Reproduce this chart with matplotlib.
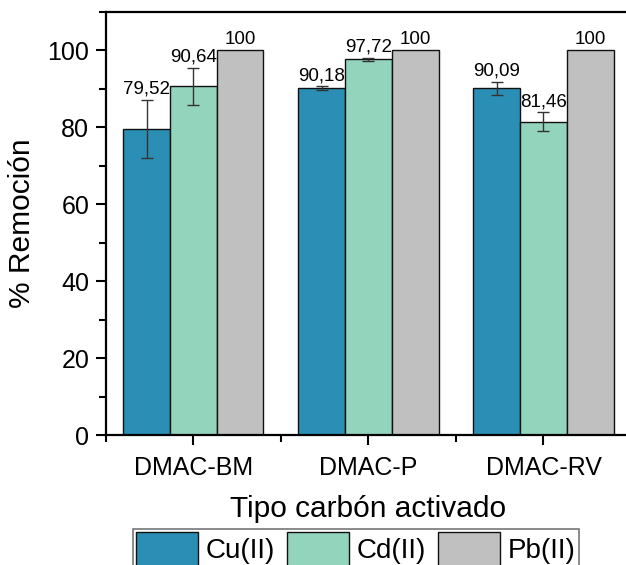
import numpy as np
import matplotlib
matplotlib.use("Agg")
import matplotlib.pyplot as plt
from matplotlib.ticker import MultipleLocator

plt.rcParams['font.family'] = ['Liberation Sans', 'DejaVu Sans']

grupos = ['DMAC-BM', 'DMAC-P', 'DMAC-RV']
metales = ['Cu(II)', 'Cd(II)', 'Pb(II)']
cu = [79.52, 90.18, 90.09]
cd = [90.64, 97.72, 81.46]
pb = [100, 100, 100]
cu_err = [7.6, 0.5, 1.7]
cd_err = [4.8, 0.4, 2.4]
pb_err = [0, 0, 0]

colores = ['#2b8fb5', '#92d4bc', '#c0c0c0']

fig = plt.figure(figsize=(6.26, 5.65), dpi=100)
ax = fig.add_axes([0.169, 0.230, 0.839, 0.749])

x = np.arange(len(grupos))
w = 0.267
series = [cu, cd, pb]
errs = [cu_err, cd_err, pb_err]
for k in range(3):
    pos = x + (k - 1) * w
    ax.bar(pos, series[k], w, color=colores[k], edgecolor='#111111',
           linewidth=1.0, label=metales[k], zorder=2)
    for i in range(3):
        e = errs[k][i]
        if e > 0:
            ax.errorbar(pos[i], series[k][i], yerr=e, fmt='none',
                        ecolor='#333333', elinewidth=1.0, capsize=4,
                        capthick=1.0, zorder=3)
        txt = ('%.2f' % series[k][i]).replace('.', ',') if series[k][i] != 100 else '100'
        ax.annotate(txt, (pos[i], series[k][i] + e), xytext=(0, 1.5),
                    textcoords='offset points', ha='center', va='bottom',
                    fontsize=13.5)

ax.set_xlim(-0.5, 2.5)
ax.set_ylim(0, 110)
ax.set_xticks(x)
ax.set_xticklabels(grupos)
ax.xaxis.set_minor_locator(MultipleLocator(1, offset=0.5))
ax.yaxis.set_major_locator(MultipleLocator(20))
ax.yaxis.set_minor_locator(MultipleLocator(10))
ax.tick_params(axis='both', which='major', direction='out', length=7, width=1.5,
               labelsize=18)
ax.tick_params(axis='x', which='major', pad=8)
ax.tick_params(axis='y', which='major', pad=5)
ax.tick_params(axis='both', which='minor', direction='out', length=5, width=1.5)
for s in ax.spines.values():
    s.set_linewidth(1.6)

ax.set_ylabel('% Remoción', fontsize=21.5, labelpad=8)
ax.set_xlabel('Tipo carbón activado', fontsize=21.5, labelpad=11)

leg = fig.legend(loc='upper center', bbox_to_anchor=(0.569, 0.0637), ncol=3,
                 fontsize=20, frameon=True, fancybox=False, edgecolor='#555555',
                 handlelength=2.23, handleheight=1.5, handletextpad=0.28,
                 columnspacing=0.43, borderpad=0.12, borderaxespad=0)
leg.get_frame().set_linewidth(1.2)

fig.savefig('out.png', dpi=100)
